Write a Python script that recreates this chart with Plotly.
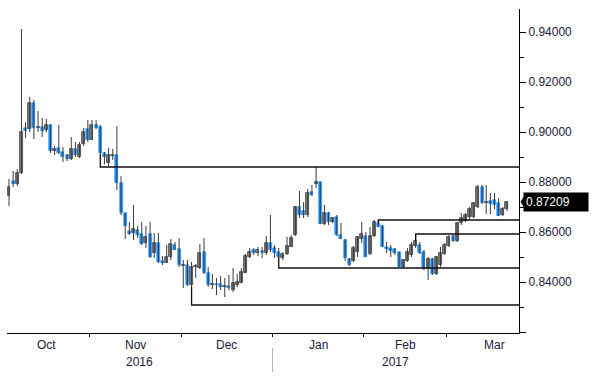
import numpy as np
import pandas as pd
import plotly.graph_objects as go

# ---- data -------------------------------------------------------------
dates = pd.bdate_range("2016-10-04", "2017-03-21")  # trading days (weekdays)

opens = [0.8745, 0.8804, 0.8792, 0.8836, 0.9016, 0.9012, 0.9116, 0.9016, 0.9020, 0.9008,
         0.9028, 0.8924, 0.8936, 0.8920, 0.8908, 0.8892, 0.8932, 0.8900, 0.8952, 0.9012,
         0.8968, 0.9028, 0.9020, 0.8916, 0.8876, 0.8904, 0.8908, 0.8796, 0.8676, 0.8604,
         0.8596, 0.8608, 0.8592, 0.8556, 0.8592, 0.8516, 0.8556, 0.8484, 0.8476, 0.8500,
         0.8548, 0.8532, 0.8464, 0.8468, 0.8388, 0.8460, 0.8456, 0.8520, 0.8436, 0.8388,
         0.8392, 0.8392, 0.8380, 0.8384, 0.8368, 0.8388, 0.8396, 0.8436, 0.8500, 0.8528,
         0.8516, 0.8524, 0.8516, 0.8556, 0.8536, 0.8520, 0.8496, 0.8512, 0.8540, 0.8588,
         0.8700, 0.8684, 0.8668, 0.8760, 0.8792, 0.8800, 0.8632, 0.8676, 0.8640, 0.8660,
         0.8588, 0.8568, 0.8492, 0.8484, 0.8520, 0.8572, 0.8584, 0.8512, 0.8584, 0.8636,
         0.8624, 0.8540, 0.8536, 0.8532, 0.8520, 0.8460, 0.8484, 0.8508, 0.8544, 0.8548,
         0.8520, 0.8452, 0.8492, 0.8432, 0.8468, 0.8512, 0.8544, 0.8584, 0.8564, 0.8636,
         0.8644, 0.8660, 0.8660, 0.8700, 0.8780, 0.8716, 0.8724, 0.8728, 0.8716, 0.8668,
         0.8692]
highs = [0.8812, 0.8844, 0.8852, 0.9412, 0.9040, 0.9140, 0.9128, 0.9084, 0.9056, 0.9052,
         0.9030, 0.8944, 0.9028, 0.8940, 0.8912, 0.8980, 0.8960, 0.8960, 0.9016, 0.9048,
         0.9048, 0.9048, 0.9028, 0.8920, 0.8936, 0.8932, 0.9024, 0.8824, 0.8676, 0.8640,
         0.8708, 0.8624, 0.8640, 0.8624, 0.8640, 0.8596, 0.8596, 0.8504, 0.8548, 0.8572,
         0.8560, 0.8576, 0.8488, 0.8488, 0.8480, 0.8472, 0.8552, 0.8576, 0.8460, 0.8432,
         0.8416, 0.8424, 0.8416, 0.8428, 0.8456, 0.8432, 0.8456, 0.8512, 0.8536, 0.8536,
         0.8540, 0.8540, 0.8584, 0.8668, 0.8548, 0.8536, 0.8520, 0.8580, 0.8588, 0.8704,
         0.8764, 0.8720, 0.8772, 0.8788, 0.8860, 0.8800, 0.8708, 0.8680, 0.8660, 0.8668,
         0.8636, 0.8572, 0.8496, 0.8544, 0.8584, 0.8640, 0.8600, 0.8620, 0.8648, 0.8648,
         0.8628, 0.8560, 0.8548, 0.8536, 0.8520, 0.8492, 0.8536, 0.8560, 0.8588, 0.8560,
         0.8528, 0.8500, 0.8496, 0.8504, 0.8540, 0.8556, 0.8588, 0.8588, 0.8640, 0.8676,
         0.8676, 0.8700, 0.8720, 0.8788, 0.8788, 0.8788, 0.8756, 0.8756, 0.8736, 0.8700,
         0.8724]
lows = [0.8704, 0.8780, 0.8784, 0.8832, 0.8976, 0.9000, 0.8972, 0.9000, 0.8980, 0.9000,
        0.8916, 0.8908, 0.8912, 0.8880, 0.8884, 0.8888, 0.8900, 0.8896, 0.8944, 0.8960,
        0.8968, 0.9012, 0.8912, 0.8870, 0.8864, 0.8888, 0.8768, 0.8668, 0.8572, 0.8588,
        0.8568, 0.8576, 0.8548, 0.8536, 0.8496, 0.8496, 0.8476, 0.8468, 0.8476, 0.8488,
        0.8528, 0.8460, 0.8376, 0.8384, 0.8380, 0.8416, 0.8452, 0.8432, 0.8380, 0.8372,
        0.8348, 0.8368, 0.8340, 0.8368, 0.8360, 0.8380, 0.8396, 0.8436, 0.8496, 0.8508,
        0.8504, 0.8496, 0.8508, 0.8520, 0.8496, 0.8496, 0.8488, 0.8508, 0.8540, 0.8584,
        0.8656, 0.8656, 0.8660, 0.8744, 0.8776, 0.8632, 0.8628, 0.8628, 0.8636, 0.8584,
        0.8572, 0.8484, 0.8464, 0.8480, 0.8500, 0.8556, 0.8500, 0.8508, 0.8580, 0.8620,
        0.8540, 0.8516, 0.8500, 0.8508, 0.8460, 0.8456, 0.8480, 0.8500, 0.8536, 0.8512,
        0.8448, 0.8408, 0.8428, 0.8428, 0.8460, 0.8508, 0.8540, 0.8560, 0.8560, 0.8628,
        0.8640, 0.8652, 0.8656, 0.8696, 0.8712, 0.8672, 0.8672, 0.8692, 0.8664, 0.8664,
        0.8684]
closes = [0.8780, 0.8792, 0.8836, 0.9000, 0.9004, 0.9116, 0.9016, 0.9020, 0.9004, 0.9028,
          0.8924, 0.8932, 0.8916, 0.8900, 0.8892, 0.8932, 0.8908, 0.8948, 0.9000, 0.8968,
          0.9028, 0.9016, 0.8916, 0.8900, 0.8908, 0.8908, 0.8796, 0.8676, 0.8624, 0.8592,
          0.8612, 0.8588, 0.8552, 0.8580, 0.8500, 0.8556, 0.8480, 0.8476, 0.8500, 0.8552,
          0.8528, 0.8468, 0.8468, 0.8388, 0.8460, 0.8464, 0.8516, 0.8436, 0.8388, 0.8392,
          0.8388, 0.8380, 0.8384, 0.8376, 0.8396, 0.8400, 0.8440, 0.8504, 0.8520, 0.8516,
          0.8528, 0.8516, 0.8556, 0.8528, 0.8516, 0.8500, 0.8512, 0.8544, 0.8576, 0.8700,
          0.8668, 0.8668, 0.8756, 0.8748, 0.8800, 0.8632, 0.8676, 0.8640, 0.8656, 0.8588,
          0.8572, 0.8496, 0.8468, 0.8536, 0.8580, 0.8592, 0.8500, 0.8584, 0.8640, 0.8620,
          0.8540, 0.8532, 0.8524, 0.8516, 0.8460, 0.8488, 0.8520, 0.8548, 0.8564, 0.8516,
          0.8452, 0.8492, 0.8432, 0.8500, 0.8516, 0.8548, 0.8580, 0.8564, 0.8636, 0.8656,
          0.8668, 0.8692, 0.8716, 0.8780, 0.8716, 0.8720, 0.8712, 0.8708, 0.8664, 0.8692,
          0.87209]

# support / resistance levels drawn on the chart
level_values = [0.8860, 0.8308, 0.8456, 0.8648, 0.8592]
level_start_dates = ["2016-11-03", "2016-12-05", "2017-01-03", "2017-02-06", "2017-02-17"]
level_anchor_values = [0.8912, 0.8380, 0.8500, 0.8636, 0.8564]

y_tick_values = [0.82, 0.84, 0.86, 0.88, 0.90, 0.92, 0.94]
y_tick_labels = ["", "0.84000", "0.86000", "0.88000", "0.90000", "0.92000", "0.94000"]

# ---- styling ----------------------------------------------------------
UP_FILL = "#7a7a7a"
UP_EDGE = "#444444"
DOWN_FILL = "#1e8fff"
WICK = "#3a3a3a"
TEXT = "#1b1b3c"
FONT = "Liberation Sans, Arial, sans-serif"

n = len(dates)
x = np.arange(n)
o = np.array(opens); h = np.array(highs); l = np.array(lows); c = np.array(closes)
up = c >= o

X_MIN, X_MAX = -0.48, 122.9
Y_MIN, Y_MAX = 0.8196, 0.9492
PX_PER_X = 512 / (X_MAX - X_MIN)

fig = go.Figure()

# wicks
wx, wy = [], []
for i in range(n):
    wx += [x[i], x[i], None]
    wy += [l[i], h[i], None]
fig.add_trace(go.Scatter(x=wx, y=wy, mode="lines", line=dict(color=WICK, width=1),
                         hoverinfo="skip", showlegend=False))

# bodies
lo_body = np.minimum(o, c)
hi_body = np.maximum(o, c)
fig.add_trace(go.Bar(x=x[up], base=lo_body[up], y=(hi_body - lo_body)[up], width=0.72,
                     marker=dict(color=UP_FILL, line=dict(color=UP_EDGE, width=0.8)),
                     showlegend=False, hoverinfo="skip"))
fig.add_trace(go.Bar(x=x[~up], base=lo_body[~up], y=(hi_body - lo_body)[~up], width=0.72,
                     marker=dict(color=DOWN_FILL, line=dict(color=DOWN_FILL, width=0.6)),
                     showlegend=False, hoverinfo="skip"))

# levels
date_index = {d.strftime("%Y-%m-%d"): i for i, d in enumerate(dates)}
for lv, sd, an in zip(level_values, level_start_dates, level_anchor_values):
    xi = date_index[sd]
    fig.add_trace(go.Scatter(x=[xi, xi, X_MAX], y=[an, lv, lv], mode="lines",
                             line=dict(color="#111111", width=1.3),
                             hoverinfo="skip", showlegend=False, cliponaxis=False))

# arrow-shaped major tick marks on the right axis
fig.add_trace(go.Scatter(x=[X_MAX + 3.2 / PX_PER_X] * len(y_tick_values), y=y_tick_values,
                         mode="markers", marker=dict(symbol="triangle-right", size=7, color="black"),
                         cliponaxis=False, hoverinfo="skip", showlegend=False))

# month positions (computed from weekday calendar)
full = pd.bdate_range("2016-10-01", "2017-03-31")
offset = list(full).index(dates[0])
month_keys = sorted(set((d.year, d.month) for d in full))
month_bounds = []
annotations = []
for (yy, mm) in month_keys:
    pos = [k - offset for k, d in enumerate(full) if d.year == yy and d.month == mm]
    a, b = pos[0] - 0.5, pos[-1] + 0.5
    month_bounds.append(a)
    annotations.append(dict(x=(a + b) / 2, y=0, xref="x", yref="paper", yanchor="middle",
                            yshift=-12, text=pd.Timestamp(yy, mm, 1).strftime("%b"),
                            showarrow=False, font=dict(family=FONT, size=12, color=TEXT)))
inner_bounds = [b for b in month_bounds if b > X_MIN]
year_break = [b for (k, b) in zip(month_keys, month_bounds) if k == (2017, 1)][0]
annotations.append(dict(x=(X_MIN + year_break) / 2, y=0, xref="x", yref="paper", yanchor="middle",
                        yshift=-29, text="2016", showarrow=False,
                        font=dict(family=FONT, size=12, color=TEXT)))
annotations.append(dict(x=(year_break + X_MAX) / 2, y=0, xref="x", yref="paper", yanchor="middle",
                        yshift=-29, text="2017", showarrow=False,
                        font=dict(family=FONT, size=12, color=TEXT)))

# last price label
last = closes[-1]
annotations.append(dict(x=1, xref="paper", y=last, yref="y", xanchor="left", yanchor="middle",
                        xshift=4, text=f"{last:.5f}", showarrow=False, bgcolor="black",
                        font=dict(family=FONT, size=12, color="white"), borderpad=2,
                        width=60, align="left"))

shapes = [
    dict(type="path", xref="paper", yref="y",
         path=f"M {1 + 1.5/512},{last} L {1 + 5/512},{last + 0.0022} L {1 + 5/512},{last - 0.0022} Z",
         fillcolor="black", line=dict(width=0)),
    dict(type="line", xref="x", yref="paper", x0=year_break, x1=year_break,
         y0=-0.046, y1=-0.12, line=dict(color="#b5b5b5", width=1)),
]

fig.update_layout(
    width=600, height=377,
    margin=dict(l=7, r=81, t=9, b=44),
    plot_bgcolor="white", paper_bgcolor="white",
    barmode="overlay", bargap=0,
    showlegend=False,
    annotations=annotations,
    shapes=shapes,
    xaxis=dict(range=[X_MIN, X_MAX], showgrid=False, zeroline=False,
               showline=True, linecolor="black", linewidth=1,
               tickvals=inner_bounds, ticktext=["" for _ in inner_bounds],
               ticks="outside", ticklen=3, tickcolor="black", tickwidth=1,
               showticklabels=False, fixedrange=True),
    yaxis=dict(range=[Y_MIN, Y_MAX], side="right", showgrid=False, zeroline=False,
               showline=True, linecolor="black", linewidth=1,
               tickvals=y_tick_values, ticktext=y_tick_labels,
               ticks="outside", ticklen=6, tickwidth=1, tickcolor="black",
               minor=dict(dtick=0.01, tick0=0.81, ticks="outside", ticklen=4,
                          tickcolor="black", tickwidth=1, showgrid=False),
               tickfont=dict(family=FONT, size=12, color=TEXT), fixedrange=True),
)

fig.write_html("out.html", config={"displayModeBar": False},
               post_script=["document.body.style.margin='0';document.body.style.overflow='hidden';"])
